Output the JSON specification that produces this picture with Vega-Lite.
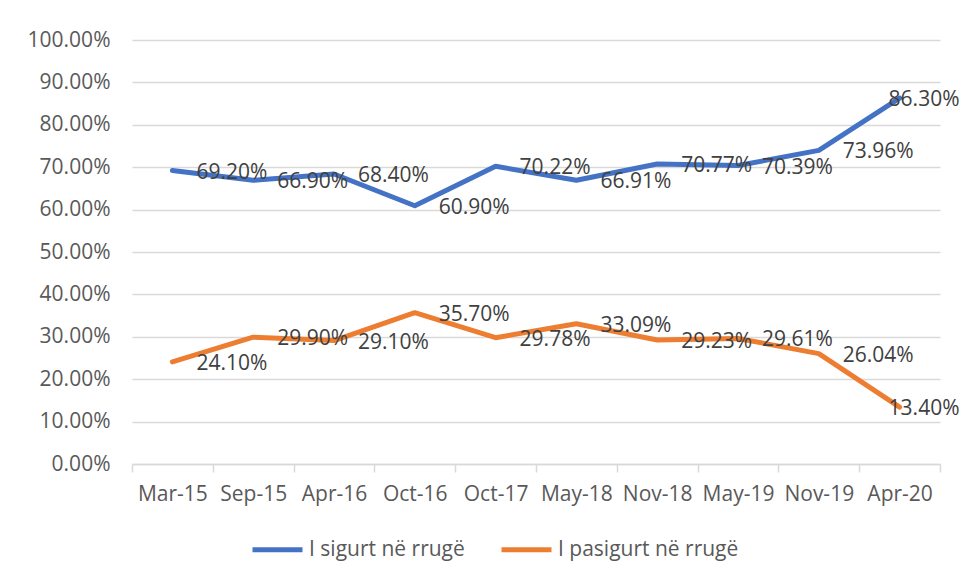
{
  "$schema": "https://vega.github.io/schema/vega-lite/v6.json",
  "width": 808,
  "height": 424,
  "autosize": {"type": "none"},
  "padding": {"left": 132, "top": 40, "right": 23, "bottom": 116},
  "background": "white",
  "config": {
    "view": {"stroke": null},
    "font": "Open Sans"
  },
  "data": {
    "values": [
      {"date": "Mar-15", "series": "I sigurt në rrugë", "value": 0.6920},
      {"date": "Sep-15", "series": "I sigurt në rrugë", "value": 0.6690},
      {"date": "Apr-16", "series": "I sigurt në rrugë", "value": 0.6840},
      {"date": "Oct-16", "series": "I sigurt në rrugë", "value": 0.6090},
      {"date": "Oct-17", "series": "I sigurt në rrugë", "value": 0.7022},
      {"date": "May-18", "series": "I sigurt në rrugë", "value": 0.6691},
      {"date": "Nov-18", "series": "I sigurt në rrugë", "value": 0.7077},
      {"date": "May-19", "series": "I sigurt në rrugë", "value": 0.7039},
      {"date": "Nov-19", "series": "I sigurt në rrugë", "value": 0.7396},
      {"date": "Apr-20", "series": "I sigurt në rrugë", "value": 0.8630},
      {"date": "Mar-15", "series": "I pasigurt në rrugë", "value": 0.2410},
      {"date": "Sep-15", "series": "I pasigurt në rrugë", "value": 0.2990},
      {"date": "Apr-16", "series": "I pasigurt në rrugë", "value": 0.2910},
      {"date": "Oct-16", "series": "I pasigurt në rrugë", "value": 0.3570},
      {"date": "Oct-17", "series": "I pasigurt në rrugë", "value": 0.2978},
      {"date": "May-18", "series": "I pasigurt në rrugë", "value": 0.3309},
      {"date": "Nov-18", "series": "I pasigurt në rrugë", "value": 0.2923},
      {"date": "May-19", "series": "I pasigurt në rrugë", "value": 0.2961},
      {"date": "Nov-19", "series": "I pasigurt në rrugë", "value": 0.2604},
      {"date": "Apr-20", "series": "I pasigurt në rrugë", "value": 0.1340}
    ]
  },
  "encoding": {
    "x": {
      "field": "date",
      "type": "nominal",
      "sort": null,
      "scale": {"type": "band", "paddingInner": 0, "paddingOuter": 0},
      "axis": {
        "title": null,
        "labelAngle": 0,
        "labelFontSize": 21,
        "labelColor": "#595959",
        "labelPadding": 11,
        "tickBand": "extent",
        "tickSize": 8,
        "tickColor": "#d9d9d9",
        "tickWidth": 1.5,
        "domainColor": "#d9d9d9",
        "domainWidth": 1.5,
        "grid": false
      }
    },
    "y": {
      "field": "value",
      "type": "quantitative",
      "scale": {"domain": [0, 1], "nice": false},
      "axis": {
        "title": null,
        "format": ".2%",
        "values": [0, 0.1, 0.2, 0.3, 0.4, 0.5, 0.6, 0.7, 0.8, 0.9, 1.0],
        "labelFontSize": 21,
        "labelColor": "#595959",
        "labelPadding": 22,
        "ticks": false,
        "tickSize": 0,
        "domain": false,
        "grid": true,
        "gridColor": "#d9d9d9",
        "gridWidth": 1.5
      }
    }
  },
  "layer": [
    {
      "mark": {"type": "line", "strokeWidth": 5, "strokeCap": "round", "strokeJoin": "round"},
      "encoding": {
        "color": {
          "field": "series",
          "type": "nominal",
          "sort": ["I sigurt në rrugë", "I pasigurt në rrugë"],
          "scale": {"domain": ["I sigurt në rrugë", "I pasigurt në rrugë"], "range": ["#4472C4", "#ED7D31"]},
          "legend": {
            "title": null,
            "orient": "none",
            "direction": "horizontal",
            "legendX": 118,
            "legendY": 482,
            "symbolType": "stroke",
            "symbolSize": 2500,
            "symbolStrokeWidth": 5,
            "labelFontSize": 21,
            "labelColor": "#595959",
            "labelOffset": 4,
            "labelLimit": 0,
            "columnPadding": 26
          }
        }
      }
    },
    {
      "transform": [{"filter": "datum.date !== 'Apr-20'"}],
      "mark": {"type": "text", "align": "left", "baseline": "middle", "dx": 24, "dy": 2, "fontSize": 21, "color": "#404040"},
      "encoding": {
        "text": {"field": "value", "type": "quantitative", "format": ".2%"}
      }
    },
    {
      "transform": [{"filter": "datum.date === 'Apr-20'"}],
      "mark": {"type": "text", "align": "left", "baseline": "middle", "dx": -11, "dy": 2, "fontSize": 21, "color": "#404040"},
      "encoding": {
        "text": {"field": "value", "type": "quantitative", "format": ".2%"}
      }
    }
  ]
}
